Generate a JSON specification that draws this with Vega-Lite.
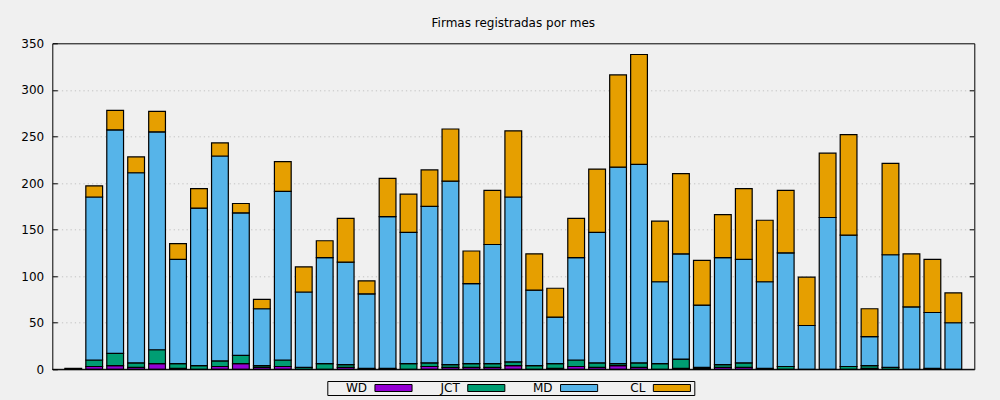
{
  "$schema": "https://vega.github.io/schema/vega-lite/v6.json",
  "width": 922,
  "height": 326,
  "autosize": {"type": "none"},
  "padding": {"left": 52.3, "top": 43.3, "right": 25.7, "bottom": 30.7},
  "background": "#f0f0f0",
  "title": {
    "text": "Firmas registradas por mes",
    "font": "DejaVu Sans",
    "fontSize": 12,
    "fontWeight": "normal",
    "color": "#000000",
    "anchor": "middle",
    "baseline": "alphabetic",
    "offset": -2
  },
  "config": {
    "view": {"stroke": "#000000", "strokeWidth": 1, "fill": "#f0f0f0"},
    "axis": {"labelFont": "DejaVu Sans", "labelFontSize": 12, "labelColor": "#000000", "domain": false}
  },
  "layer": [
    {
      "data": {
        "values": [
          {"mes": 0, "WD": 0, "JCT": 0, "MD": 0, "CL": 1},
          {"mes": 1, "WD": 3, "JCT": 7, "MD": 175, "CL": 12},
          {"mes": 2, "WD": 4, "JCT": 13, "MD": 240, "CL": 21},
          {"mes": 3, "WD": 2, "JCT": 5, "MD": 204, "CL": 17},
          {"mes": 4, "WD": 6, "JCT": 15, "MD": 234, "CL": 22},
          {"mes": 5, "WD": 1, "JCT": 5, "MD": 112, "CL": 17},
          {"mes": 6, "WD": 0, "JCT": 4, "MD": 169, "CL": 21},
          {"mes": 7, "WD": 3, "JCT": 6, "MD": 220, "CL": 14},
          {"mes": 8, "WD": 6, "JCT": 9, "MD": 153, "CL": 10},
          {"mes": 9, "WD": 2, "JCT": 2, "MD": 61, "CL": 10},
          {"mes": 10, "WD": 3, "JCT": 7, "MD": 181, "CL": 32},
          {"mes": 11, "WD": 0, "JCT": 2, "MD": 81, "CL": 27},
          {"mes": 12, "WD": 0, "JCT": 6, "MD": 114, "CL": 18},
          {"mes": 13, "WD": 2, "JCT": 3, "MD": 110, "CL": 47},
          {"mes": 14, "WD": 0, "JCT": 1, "MD": 80, "CL": 14},
          {"mes": 15, "WD": 0, "JCT": 1, "MD": 163, "CL": 41},
          {"mes": 16, "WD": 0, "JCT": 6, "MD": 141, "CL": 41},
          {"mes": 17, "WD": 3, "JCT": 4, "MD": 168, "CL": 39},
          {"mes": 18, "WD": 2, "JCT": 3, "MD": 197, "CL": 56},
          {"mes": 19, "WD": 2, "JCT": 4, "MD": 86, "CL": 35},
          {"mes": 20, "WD": 2, "JCT": 4, "MD": 128, "CL": 58},
          {"mes": 21, "WD": 4, "JCT": 4, "MD": 177, "CL": 71},
          {"mes": 22, "WD": 0, "JCT": 4, "MD": 81, "CL": 39},
          {"mes": 23, "WD": 1, "JCT": 5, "MD": 50, "CL": 31},
          {"mes": 24, "WD": 3, "JCT": 7, "MD": 110, "CL": 42},
          {"mes": 25, "WD": 2, "JCT": 5, "MD": 140, "CL": 68},
          {"mes": 26, "WD": 4, "JCT": 2, "MD": 211, "CL": 99},
          {"mes": 27, "WD": 2, "JCT": 5, "MD": 213, "CL": 118},
          {"mes": 28, "WD": 0, "JCT": 6, "MD": 88, "CL": 65},
          {"mes": 29, "WD": 1, "JCT": 10, "MD": 113, "CL": 86},
          {"mes": 30, "WD": 1, "JCT": 1, "MD": 67, "CL": 48},
          {"mes": 31, "WD": 2, "JCT": 3, "MD": 115, "CL": 46},
          {"mes": 32, "WD": 2, "JCT": 5, "MD": 111, "CL": 76},
          {"mes": 33, "WD": 0, "JCT": 1, "MD": 93, "CL": 66},
          {"mes": 34, "WD": 0, "JCT": 3, "MD": 122, "CL": 67},
          {"mes": 35, "WD": 0, "JCT": 0, "MD": 47, "CL": 52},
          {"mes": 36, "WD": 0, "JCT": 0, "MD": 163, "CL": 69},
          {"mes": 37, "WD": 0, "JCT": 3, "MD": 141, "CL": 108},
          {"mes": 38, "WD": 1, "JCT": 3, "MD": 31, "CL": 30},
          {"mes": 39, "WD": 0, "JCT": 2, "MD": 121, "CL": 98},
          {"mes": 40, "WD": 0, "JCT": 0, "MD": 67, "CL": 57},
          {"mes": 41, "WD": 1, "JCT": 0, "MD": 60, "CL": 57},
          {"mes": 42, "WD": 0, "JCT": 0, "MD": 50, "CL": 32}
        ]
      },
      "transform": [
        {"fold": ["WD", "JCT", "MD", "CL"], "as": ["serie", "value"]},
        {"filter": "datum.value > 0"},
        {"calculate": "indexof(['WD', 'JCT', 'MD', 'CL'], datum.serie)", "as": "orden"}
      ],
      "mark": {"type": "bar", "stroke": "#000000", "strokeWidth": 1.2, "opacity": 1},
      "encoding": {
        "x": {
          "field": "mes",
          "type": "ordinal",
          "scale": {"paddingInner": 0.2, "paddingOuter": 0.6},
          "axis": null
        },
        "y": {
          "field": "value",
          "type": "quantitative",
          "stack": "zero",
          "scale": {"domain": [0, 350], "nice": false},
          "axis": {
            "orient": "left",
            "title": null,
            "values": [0, 50, 100, 150, 200, 250, 300, 350],
            "tickSize": -5,
            "tickColor": "#000000",
            "tickWidth": 1,
            "labelPadding": 13.6,
            "grid": false
          }
        },
        "order": {"field": "orden", "type": "quantitative", "sort": "ascending"},
        "color": {
          "field": "serie",
          "type": "nominal",
          "sort": ["WD", "JCT", "MD", "CL"],
          "scale": {"domain": ["WD", "JCT", "MD", "CL"], "range": ["#9400d3", "#009e73", "#56b4e9", "#e69f00"]},
          "legend": {
            "title": null,
            "orient": "none",
            "legendX": 275,
            "legendY": 337.7,
            "direction": "horizontal",
            "columns": 4,
            "gridAlign": "all",
            "columnPadding": 6.8,
            "padding": 1,
            "strokeColor": "#000000",
            "fillColor": "#f0f0f0",
            "symbolType": "M-5.3,-1H5.3V1H-5.3Z",
            "symbolSize": 49,
            "symbolOffset": 59.2,
            "symbolStrokeColor": "#000000",
            "symbolStrokeWidth": 1,
            "symbolOpacity": 1,
            "labelAlign": "right",
            "labelOffset": -32.5,
            "labelFont": "DejaVu Sans",
            "labelFontSize": 12,
            "labelColor": "#000000"
          }
        }
      }
    },
    {
      "data": {"values": [{}]},
      "mark": {"type": "rule", "stroke": "#000000", "strokeWidth": 1},
      "encoding": {
        "y": {
          "datum": 0,
          "type": "quantitative",
          "axis": {
            "orient": "right",
            "title": null,
            "labels": false,
            "values": [50, 100, 150, 200, 250, 300],
            "tickSize": -5,
            "tickColor": "#000000",
            "tickWidth": 1,
            "grid": true,
            "gridColor": "#c4c4c4",
            "gridWidth": 1,
            "gridDash": [1.3, 3]
          }
        }
      }
    }
  ],
  "resolve": {"axis": {"y": "independent"}}
}
